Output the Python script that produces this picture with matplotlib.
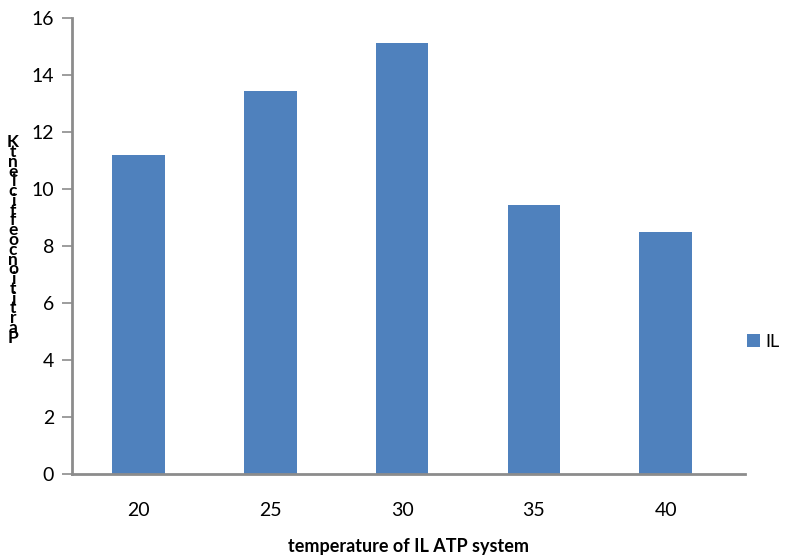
import matplotlib
matplotlib.use("Agg")
import matplotlib.pyplot as plt
from matplotlib.patches import Patch

categories = ["20", "25", "30", "35", "40"]
values = [11.2, 13.45, 15.15, 9.45, 8.5]
series_name = "IL"
y_ticks = [0, 2, 4, 6, 8, 10, 12, 14, 16]
x_label = "temperature of IL ATP system"
y_label = "Partition coefficient K"

plt.rcParams['font.family'] = ['Lato', 'DejaVu Sans']

W, H = 809, 560
fig = plt.figure(figsize=(W / 100, H / 100), dpi=100)
ax = fig.add_axes([72.3 / W, 1 - 474 / H, (745 - 72.3) / W, (474 - 18.3) / H])

bar_color = "#4F81BD"
x = list(range(len(categories)))
ax.bar(x, values, width=0.4, color=bar_color, zorder=2)

ax.set_xlim(-0.5, 4.6)
ax.set_ylim(0, 16)
ax.set_yticks(y_ticks)
ax.set_xticks(x)
ax.set_xticklabels(categories)

for s in ["top", "right"]:
    ax.spines[s].set_visible(False)
for s in ["left", "bottom"]:
    ax.spines[s].set_color("#8C8C8C")
    ax.spines[s].set_linewidth(2)

ax.tick_params(axis="y", direction="out", length=7, width=1.2, color="#8C8C8C",
               labelsize=14, pad=6)
ax.tick_params(axis="x", length=0, labelsize=14, pad=20)

ax.set_xlabel(x_label, fontsize=13, fontweight="bold", labelpad=14)

# stacked (reversed) y-label as in the reference
stacked = "\n".join([c for c in y_label[::-1] if c != " "])
fig.text(13 / W, 1 - 240 / H, stacked, fontsize=12.5, fontweight="bold",
         ha="center", va="center", linespacing=0.52)

handles = [Patch(facecolor=bar_color, edgecolor="none", label=series_name)]
fig.legend(handles=handles, loc="center left", bbox_to_anchor=(740 / W, 1 - 342 / H),
           frameon=False, fontsize=13, handlelength=0.7, handleheight=0.7,
           handletextpad=0.3, borderaxespad=0)

fig.savefig("out.png", dpi=100)
